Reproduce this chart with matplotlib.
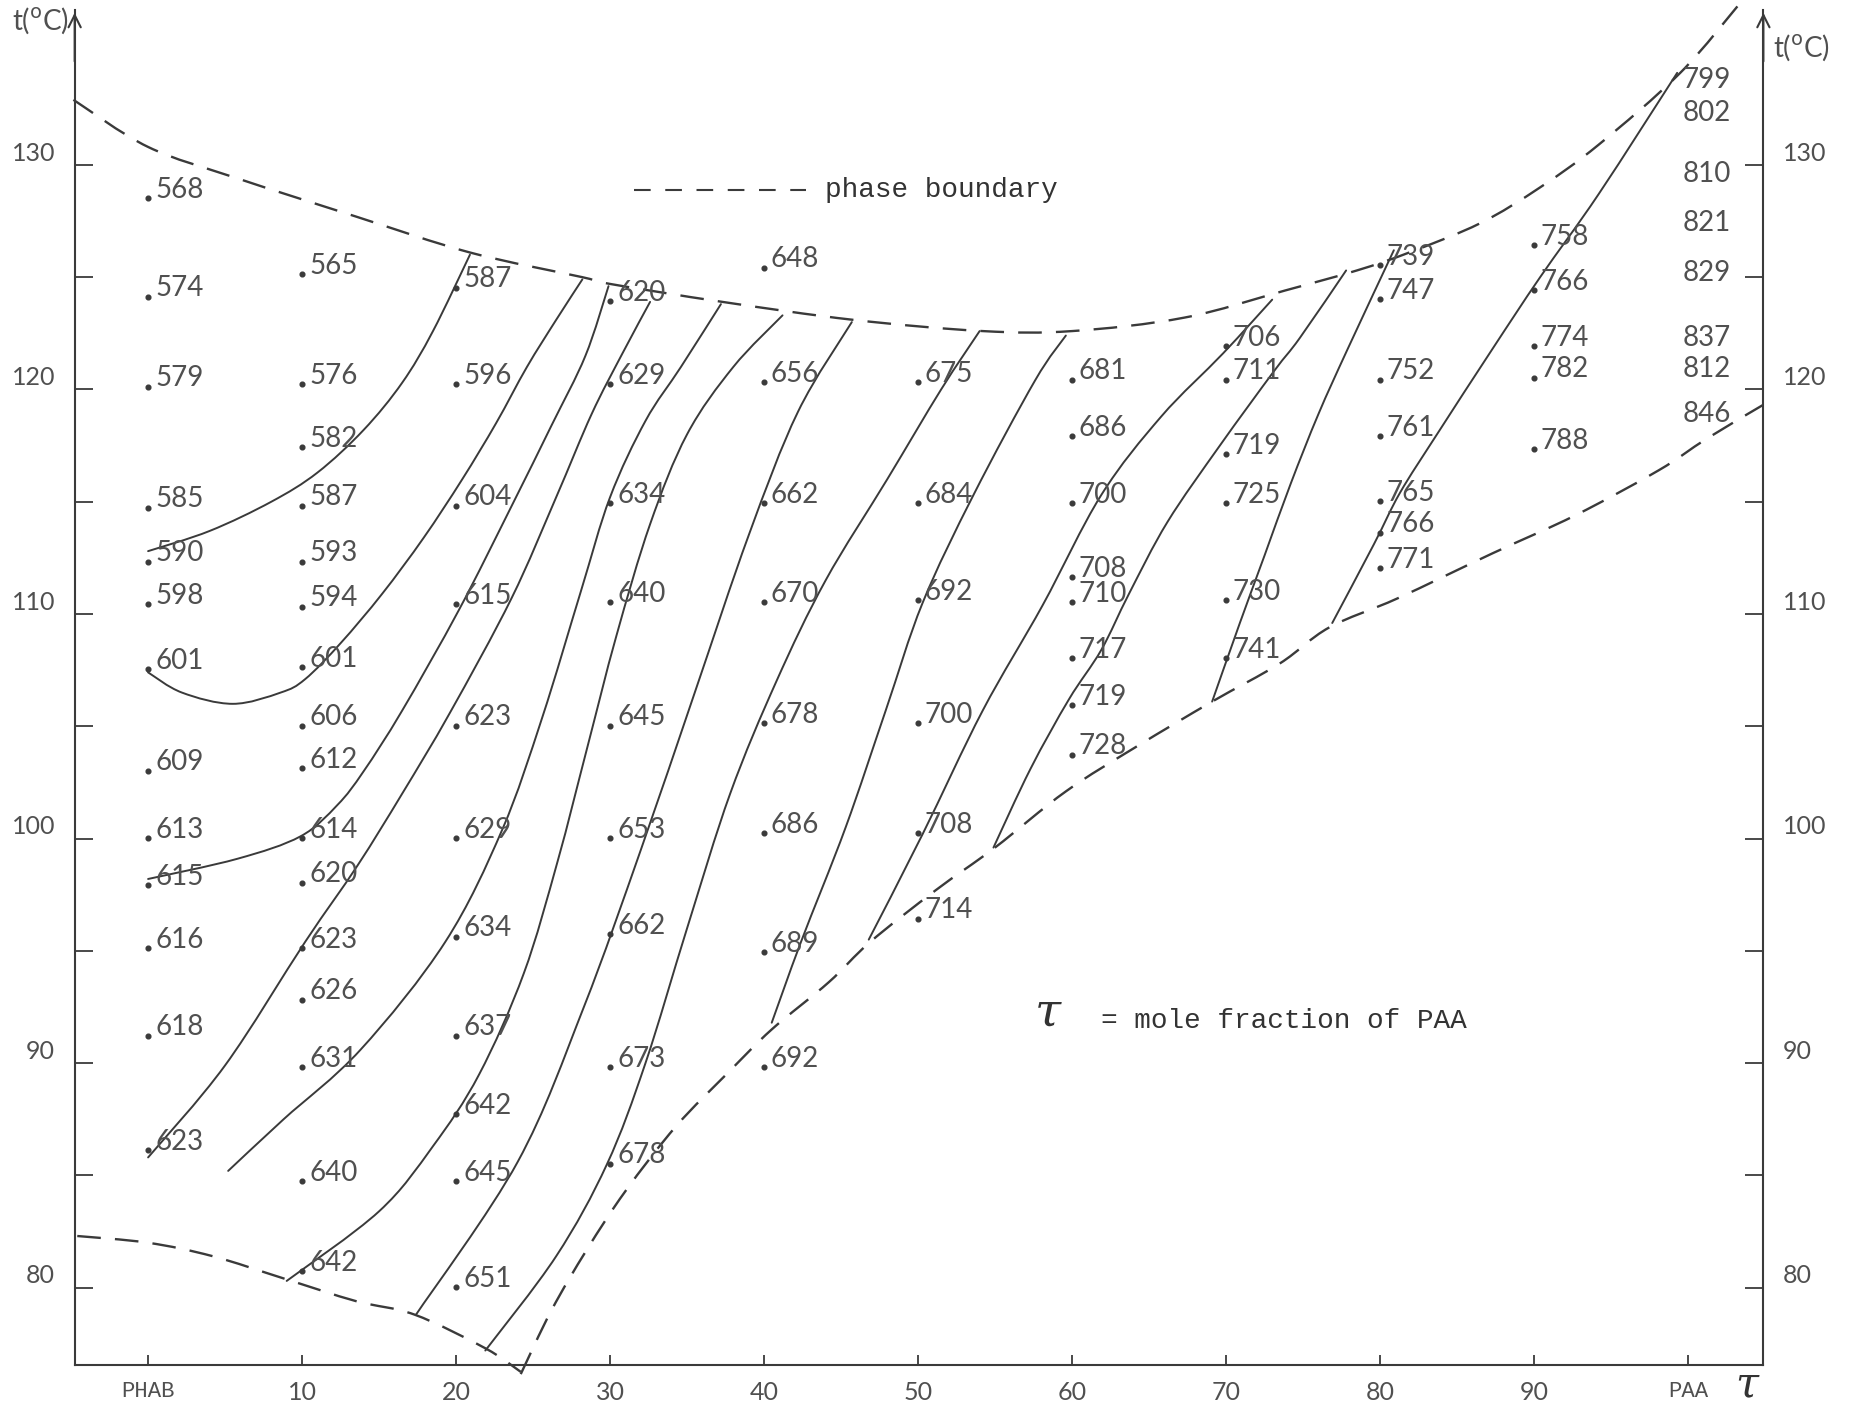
import matplotlib
matplotlib.use('Agg')
import matplotlib.pyplot as plt
import matplotlib.transforms as mtransforms
from matplotlib.path import Path
from matplotlib.patches import PathPatch

# Measured values (mole fraction of PAA in %, temperature in deg C, label text)
col0_t = [128.9, 124.5, 120.5, 115.1, 112.7, 110.8, 107.9, 103.4, 100.4, 98.3, 95.5, 91.6, 86.5]
col0_v = ['568', '574', '579', '585', '590', '598', '601', '609', '613', '615', '616', '618', '623']
col10_t = [125.5, 120.6, 117.8, 115.2, 112.7, 110.7, 108.0, 105.4, 103.5, 100.4, 98.4, 95.5, 93.2, 90.2, 85.1, 81.1]
col10_v = ['565', '576', '582', '587', '593', '594', '601', '606', '612', '614', '620', '623', '626', '631', '640', '642']
col20_t = [124.9, 120.6, 115.2, 110.8, 105.4, 100.4, 96.0, 91.6, 88.1, 85.1, 80.4]
col20_v = ['587', '596', '604', '615', '623', '629', '634', '637', '642', '645', '651']
col30_t = [124.3, 120.6, 115.3, 110.9, 105.4, 100.4, 96.1, 90.2, 85.9]
col30_v = ['620', '629', '634', '640', '645', '653', '662', '673', '678']
col40_t = [125.8, 120.7, 115.3, 110.9, 105.5, 100.6, 95.3, 90.2]
col40_v = ['648', '656', '662', '670', '678', '686', '689', '692']
col50_t = [120.7, 115.3, 111.0, 105.5, 100.6, 96.8]
col50_v = ['675', '684', '692', '700', '708', '714']
col60_t = [120.8, 118.3, 115.3, 112.0, 110.9, 108.4, 106.3, 104.1]
col60_v = ['681', '686', '700', '708', '710', '717', '719', '728']
col70_t = [122.3, 120.8, 117.5, 115.3, 111.0, 108.4]
col70_v = ['706', '711', '719', '725', '730', '741']
col80_t = [125.9, 124.4, 120.8, 118.3, 115.4, 114.0, 112.4]
col80_v = ['739', '747', '752', '761', '765', '766', '771']
col90_t = [126.8, 124.8, 122.3, 120.9, 117.7]
col90_v = ['758', '766', '774', '782', '788']
paa_t = [133.8, 132.3, 129.6, 127.4, 125.2, 122.3, 120.9, 118.9]
paa_v = ['799', '802', '810', '821', '829', '837', '812', '846']

columns = [(0, col0_t, col0_v), (10, col10_t, col10_v), (20, col20_t, col20_v),
           (30, col30_t, col30_v), (40, col40_t, col40_v), (50, col50_t, col50_v),
           (60, col60_t, col60_v), (70, col70_t, col70_v), (80, col80_t, col80_v),
           (90, col90_t, col90_v)]

# Phase boundaries (composition, temperature)
upper_bd = [(-4.85, 132.9), (0, 130.8), (5.8, 129.4), (13.5, 127.7), (20.9, 126.1),
            (28.2, 125.0), (30.0, 124.7), (37.3, 123.9), (45.8, 123.1), (54.2, 122.6),
            (60.0, 122.6), (67.3, 123.2), (73.8, 124.4), (78.5, 125.3), (81.9, 126.1),
            (86.5, 127.4), (90.4, 129.0), (94.2, 130.9), (99.5, 134.1), (103.5, 137.3)]
lowleft_bd = [(-4.6, 82.3), (0, 82.0), (4.2, 81.4), (8.85, 80.4), (13.5, 79.4),
              (17.3, 78.8), (21.9, 77.3), (24.2, 76.25)]
lowright_bd = [(24.2, 76.15), (26.2, 79.0), (28.5, 81.7), (31.0, 84.3), (34.3, 87.2),
               (37.7, 89.6), (40.5, 91.5), (44.2, 93.6), (46.9, 95.4), (51.15, 97.7),
               (55.0, 99.6), (59.6, 102.1), (64.2, 104.1), (69.1, 106.1), (73.5, 107.8),
               (76.7, 109.4), (81.15, 110.7), (87.3, 112.7), (92.7, 114.4), (98.1, 116.4),
               (101.2, 117.8), (104.85, 119.3)]

# Iso-lines
iso_a = [(0.0, 112.8), (4.0, 113.7), (8.0, 115.0), (11.0, 116.3), (14.0, 118.2), (16.5, 120.3),
         (18.5, 122.6), (20.9, 126.0)]
iso_b = [(0.0, 107.4), (2.2, 106.5), (5.5, 106.0), (8.6, 106.5), (10.2, 107.1), (12.5, 108.7),
         (15.2, 110.9), (17.9, 113.4), (20.4, 116.0), (22.6, 118.5), (24.6, 121.0), (26.5, 123.1),
         (28.2, 124.9)]
iso_p = [(0.0, 98.2), (5.8, 99.1), (9.9, 100.1), (12.3, 101.5), (14.0, 103.0), (16.5, 105.7),
         (20.2, 110.2), (23.6, 114.8), (26.2, 118.4), (28.4, 121.5), (29.9, 124.6)]
iso_q = [(0.0, 85.8), (5.0, 89.9), (10.2, 95.4), (13.6, 98.8), (16.5, 102.0), (19.6, 105.6),
         (23.6, 110.7), (26.5, 115.2), (28.8, 118.9), (30.8, 121.6), (32.6, 123.9)]
iso_r = [(5.2, 85.2), (8.8, 87.5), (13.8, 90.6), (19.3, 95.4), (23.0, 100.4), (25.6, 105.4),
         (28.1, 111.0), (30.0, 115.2), (32.3, 118.6), (34.6, 121.0), (37.2, 123.8)]
iso_s = [(9.0, 80.3), (15.0, 83.4), (18.5, 86.3), (21.5, 89.5), (24.4, 94.0), (26.6, 99.0),
         (28.5, 104.0), (30.4, 109.0), (32.6, 114.0), (35.0, 118.0), (38.0, 121.0), (41.2, 123.3)]
iso_t = [(17.4, 78.8), (24.0, 85.6), (28.3, 92.5), (32.0, 99.5), (35.5, 106.5), (39.0, 113.5),
         (42.2, 119.0), (45.7, 123.0)]
iso_u = [(21.9, 77.2), (26.5, 81.4), (29.8, 85.5), (32.3, 90.0), (35.0, 96.0), (37.8, 102.0),
         (40.8, 107.0), (44.0, 111.5), (48.0, 116.0), (51.5, 120.0), (54.0, 122.6)]
iso_v = [(40.5, 91.8), (42.4, 95.4), (45.3, 100.5), (47.9, 105.7), (50.3, 110.5), (53.6, 115.3),
         (57.6, 120.4), (59.6, 122.4)]
iso_w = [(46.8, 95.5), (50.3, 100.2), (54.2, 105.7), (58.1, 110.4), (61.9, 115.3), (65.8, 118.8),
         (69.8, 121.6), (73.0, 124.0)]
iso_x = [(54.9, 99.6), (57.3, 103.1), (59.8, 106.2), (61.9, 108.4), (63.7, 110.9), (66.2, 114.1),
         (69.6, 117.5), (73.1, 120.8), (74.8, 122.3), (77.8, 125.3)]
iso_l = [(69.1, 106.1), (70.9, 109.6), (72.5, 112.6), (74.2, 115.8), (76.0, 118.9), (77.9, 121.8),
         (80.9, 126.2)]
iso_m = [(76.9, 109.6), (79.6, 113.1), (81.3, 115.4), (83.7, 118.0), (87.3, 121.8), (90.4, 125.0),
         (94.2, 128.7), (99.3, 134.1)]
iso_lines = [iso_a, iso_b, iso_p, iso_q, iso_r, iso_s, iso_t, iso_u, iso_v, iso_w, iso_x, iso_l, iso_m]

y_ticks = [80, 90, 100, 110, 120, 130]
x_ticks = [0, 10, 20, 30, 40, 50, 60, 70, 80, 90, 100]
x_labels = ['PHAB', '10', '20', '30', '40', '50', '60', '70', '80', '90', 'PAA']

ink = '#3a3a3a'
txt = '#505050'
num_font = ['Lato', 'DejaVu Sans']
mono = ['Liberation Mono', 'DejaVu Sans Mono']


def smooth_path(pts):
    """Catmull-Rom through the points, as cubic Bezier segments."""
    verts = [pts[0]]
    codes = [Path.MOVETO]
    n = len(pts)
    for i in range(n - 1):
        p0 = pts[max(i - 1, 0)]
        p1 = pts[i]
        p2 = pts[i + 1]
        p3 = pts[min(i + 2, n - 1)]
        c1 = (p1[0] + (p2[0] - p0[0]) / 6, p1[1] + (p2[1] - p0[1]) / 6)
        c2 = (p2[0] - (p3[0] - p1[0]) / 6, p2[1] - (p3[1] - p1[1]) / 6)
        verts += [c1, c2, p2]
        codes += [Path.CURVE4] * 3
    return Path(verts, codes)


fig = plt.figure(figsize=(18.57, 14.05), dpi=100)
ax = fig.add_axes([0.0402, 0.0287, 0.9094, 0.9642])
ax.set_xlim(-4.77, 104.9)
ax.set_ylim(76.57, 136.9)
ax.spines['top'].set_visible(False)
for s in ['left', 'right', 'bottom']:
    ax.spines[s].set_color(ink)
    ax.spines[s].set_linewidth(1.5)

# axis arrows
for xa in (0, 1):
    ax.annotate('', xy=(xa, 1.0), xytext=(xa, 0.96), xycoords='axes fraction',
                arrowprops=dict(arrowstyle='->', color=ink, lw=1.5, mutation_scale=22))

ax.set_yticks(y_ticks)
ax.set_yticks([85, 95, 105, 115, 125], minor=True)
ax.set_xticks(x_ticks)
ax.set_xticklabels(x_labels)
ax.tick_params(axis='y', which='both', left=True, right=True, labelleft=True, labelright=True,
               direction='in', length=13, width=1.3, color=ink, pad=14, labelsize=18,
               labelcolor=txt)
ax.tick_params(axis='x', direction='in', length=7, width=1.3, color=ink, pad=12,
               labelsize=18, labelcolor=txt)
up = mtransforms.ScaledTranslation(0, 10 / 72, fig.dpi_scale_trans)
for lab in ax.get_yticklabels():
    lab.set_fontfamily(num_font)
    lab.set_transform(lab.get_transform() + up)
for lab in ax.get_xticklabels():
    if lab.get_text() in ('PHAB', 'PAA'):
        lab.set_fontfamily(mono)
        lab.set_fontsize(16)
    else:
        lab.set_fontfamily(num_font)

# phase boundaries
for bd in (upper_bd, lowleft_bd, lowright_bd):
    ax.add_patch(PathPatch(smooth_path(bd), fill=False, edgecolor=ink, lw=1.7,
                           ls=(0, (10, 6)), clip_on=False))

# iso-lines
for line in iso_lines:
    ax.add_patch(PathPatch(smooth_path(line), fill=False, edgecolor=ink, lw=1.4,
                           capstyle='round'))

# measured points with labels
dot_tf = mtransforms.offset_copy(ax.transData, fig=fig, x=0, y=-6, units='points')
for xc, temps, vals in columns:
    ax.plot([xc] * len(temps), temps, 'o', ms=3.4, color=ink, transform=dot_tf)
    for t, v in zip(temps, vals):
        ax.annotate(v, (xc, t), xytext=(5, 0), textcoords='offset points', ha='left',
                    va='center', fontsize=20, color=txt, fontfamily=num_font)
for t, v in zip(paa_t, paa_v):
    ax.annotate(v, (100, t), xytext=(-4, 0), textcoords='offset points', ha='left',
                va='center', fontsize=20, color=txt, fontfamily=num_font)

# legend and notes
ax.plot([0.331, 0.433], [0.8674, 0.8674], transform=ax.transAxes, color=ink, lw=1.5,
        ls=(0, (8, 7)))
ax.text(0.4446, 0.8674, 'phase boundary', transform=ax.transAxes, fontsize=20,
        fontfamily=mono, color='#333333', va='center', ha='left')
ax.text(0.5764, 0.2597, 'τ', transform=ax.transAxes, fontsize=34, fontfamily='DejaVu Serif',
        style='italic', color='#333333', va='center', ha='center')
ax.text(0.608, 0.2536, '= mole fraction of PAA', transform=ax.transAxes, fontsize=20,
        fontfamily=mono, color='#333333', va='center', ha='left')
ax.text(0.99, -0.014, 'τ', transform=ax.transAxes, fontsize=30, fontfamily='DejaVu Serif',
        style='italic', color='#333333', va='center', ha='center')

fig.text(0.0064, 0.985, r't($^{\rm o}$C)', fontsize=20, color=txt, ha='left', va='center',
         fontfamily=num_font)
fig.text(0.9547, 0.966, r't($^{\rm o}$C)', fontsize=20, color=txt, ha='left', va='center',
         fontfamily=num_font)

fig.savefig('out.png', dpi=100, facecolor='white')
